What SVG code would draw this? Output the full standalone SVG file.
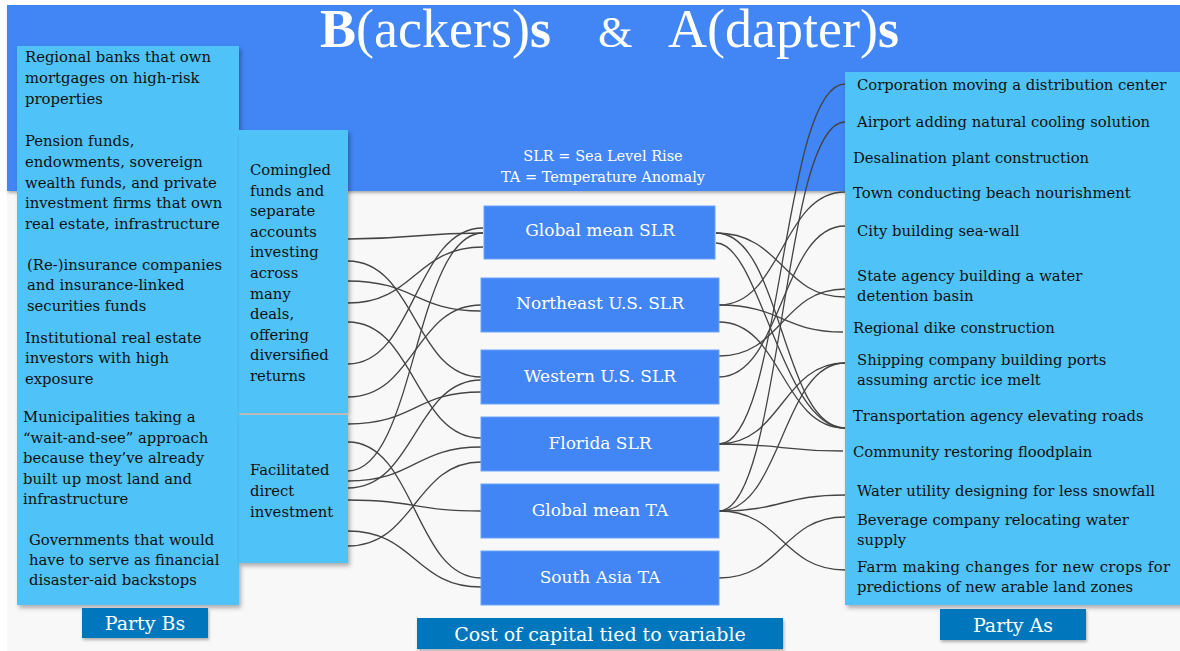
<svg xmlns="http://www.w3.org/2000/svg" width="1180" height="651" viewBox="0 0 1180 651">
<defs>
<filter id="sh" x="-10%" y="-10%" width="130%" height="130%"><feDropShadow dx="2" dy="3" stdDeviation="2" flood-color="#000" flood-opacity="0.3"/></filter>
<filter id="shs" x="-10%" y="-10%" width="130%" height="140%"><feDropShadow dx="1" dy="2" stdDeviation="1.5" flood-color="#000" flood-opacity="0.3"/></filter>
<style>
.lb{fill:#4fc3f7;filter:url(#sh)}
.cb{fill:#4285f4;stroke:#6aa3f8;stroke-width:1}
.bl{fill:#0277bd;filter:url(#shs)}
.t{font-family:"DejaVu Serif","Liberation Serif",serif;font-size:14.8px;fill:#111}
.w{font-family:"DejaVu Serif","Liberation Serif",serif;fill:#fff}
.h{font-family:"Liberation Serif","Times New Roman",serif;fill:#fff}
.c{fill:none;stroke:#444;stroke-width:1.3}
</style>
</defs>
<rect x="0" y="0" width="1180" height="651" fill="#fff"/>
<rect x="7" y="191" width="1173" height="460" fill="#f8f8f8"/>
<rect x="7" y="5" width="1173" height="186" fill="#4285f4" filter="url(#shs)"/>
<g id="title">
<text class="h" x="320" y="47" font-size="54"><tspan font-weight="bold">B</tspan>(ackers)<tspan font-weight="bold">s</tspan></text>
<text class="h" x="598" y="47" font-size="44">&amp;</text>
<text class="h" x="668" y="47" font-size="54">A(dapter)<tspan font-weight="bold">s</tspan></text>
</g>
<g id="legend">
<text class="w" x="603" y="161" font-size="14.5" text-anchor="middle">SLR = Sea Level Rise</text>
<text class="w" x="603" y="182" font-size="14.5" text-anchor="middle">TA = Temperature Anomaly</text>
</g>
<g id="connectors">
<path class="c" d="M348,239 C415,239 415,233 483,233"/>
<path class="c" d="M348,261 C415,261 415,377 481,377"/>
<path class="c" d="M348,281 C415,281 415,311 481,311"/>
<path class="c" d="M348,303 C415,303 415,247 483,247"/>
<path class="c" d="M348,322 C415,322 415,438 481,438"/>
<path class="c" d="M348,364 C415,364 415,228 483,228"/>
<path class="c" d="M348,397 C415,397 415,305 481,305"/>
<path class="c" d="M348,424 C415,424 415,392 481,392"/>
<path class="c" d="M348,442 C415,442 415,578 481,578"/>
<path class="c" d="M348,471 C415,471 415,233 483,233"/>
<path class="c" d="M348,481 C415,481 415,447 481,447"/>
<path class="c" d="M348,488 C415,488 415,380 481,380"/>
<path class="c" d="M348,500 C415,500 415,511 481,511"/>
<path class="c" d="M348,531 C415,531 415,587 481,587"/>
<path class="c" d="M348,546 C415,546 415,462 481,462"/>
<path class="c" d="M716,233 C782,233 782,297 845,297"/>
<path class="c" d="M716,233 C782,233 782,428 845,428"/>
<path class="c" d="M716,243 C760,243 782,428 845,428"/>
<path class="c" d="M719,305 C782,305 782,192 845,192"/>
<path class="c" d="M719,305 C782,305 782,332 843,332"/>
<path class="c" d="M719,322 C782,322 782,428 845,428"/>
<path class="c" d="M719,356 C782,356 782,289 845,289"/>
<path class="c" d="M719,377 C782,377 782,226 845,226"/>
<path class="c" d="M719,444 C782,444 782,84 845,84"/>
<path class="c" d="M719,444 C782,444 782,363 845,363"/>
<path class="c" d="M719,444 C782,444 782,451 843,451"/>
<path class="c" d="M719,511 C782,511 782,122 845,122"/>
<path class="c" d="M719,511 C782,511 782,363 845,363"/>
<path class="c" d="M719,511 C782,511 782,495 845,495"/>
<path class="c" d="M719,511 C782,511 782,570 845,570"/>
<path class="c" d="M719,578 C782,578 782,517 845,517"/>
</g>
<g id="partyB">
<rect class="lb" x="17" y="46" width="222" height="559"/>
<text class="t" x="25" y="62">Regional banks that own</text>
<text class="t" x="25" y="83">mortgages on high-risk</text>
<text class="t" x="25" y="104">properties</text>
<text class="t" x="25" y="146">Pension funds,</text>
<text class="t" x="25" y="167">endowments, sovereign</text>
<text class="t" x="25" y="188">wealth funds, and private</text>
<text class="t" x="25" y="208">investment firms that own</text>
<text class="t" x="25" y="229">real estate, infrastructure</text>
<text class="t" x="27" y="270">(Re-)insurance companies</text>
<text class="t" x="27" y="290">and insurance-linked</text>
<text class="t" x="27" y="311">securities funds</text>
<text class="t" x="25" y="343">Institutional real estate</text>
<text class="t" x="25" y="363">investors with high</text>
<text class="t" x="25" y="384">exposure</text>
<text class="t" x="23" y="422">Municipalities taking a</text>
<text class="t" x="23" y="443">“wait-and-see” approach</text>
<text class="t" x="23" y="463">because they’ve already</text>
<text class="t" x="23" y="484">built up most land and</text>
<text class="t" x="23" y="504">infrastructure</text>
<text class="t" x="29" y="545">Governments that would</text>
<text class="t" x="29" y="565">have to serve as financial</text>
<text class="t" x="29" y="585">disaster-aid backstops</text>
</g>
<g id="comingled">
<rect class="lb" x="239" y="130" width="109" height="283"/>
<text class="t" x="250" y="175">Comingled</text>
<text class="t" x="250" y="196">funds and</text>
<text class="t" x="250" y="216">separate</text>
<text class="t" x="250" y="237">accounts</text>
<text class="t" x="250" y="257">investing</text>
<text class="t" x="250" y="278">across</text>
<text class="t" x="250" y="299">many</text>
<text class="t" x="250" y="319">deals,</text>
<text class="t" x="250" y="340">offering</text>
<text class="t" x="250" y="360">diversified</text>
<text class="t" x="250" y="381">returns</text>
</g>
<g id="facilitated">
<rect class="lb" x="239" y="415" width="109" height="148"/>
<text class="t" x="250" y="475">Facilitated</text>
<text class="t" x="250" y="496">direct</text>
<text class="t" x="250" y="517">investment</text>
</g>
<g id="gslr"><rect class="cb" x="484" y="206" width="231" height="53"/><text class="w" x="600" y="236" font-size="17" text-anchor="middle">Global mean SLR</text></g>
<g id="neslr"><rect class="cb" x="481" y="278" width="238" height="54"/><text class="w" x="600" y="309" font-size="17" text-anchor="middle">Northeast U.S. SLR</text></g>
<g id="wslr"><rect class="cb" x="481" y="350" width="238" height="54"/><text class="w" x="600" y="382" font-size="17" text-anchor="middle">Western U.S. SLR</text></g>
<g id="fslr"><rect class="cb" x="481" y="417" width="238" height="54"/><text class="w" x="600" y="449" font-size="17" text-anchor="middle">Florida SLR</text></g>
<g id="gmta"><rect class="cb" x="481" y="484" width="238" height="54"/><text class="w" x="600" y="516" font-size="17" text-anchor="middle">Global mean TA</text></g>
<g id="sata"><rect class="cb" x="481" y="551" width="238" height="54"/><text class="w" x="600" y="583" font-size="17" text-anchor="middle">South Asia TA</text></g>
<g id="partyA">
<rect class="lb" x="845" y="72" width="340" height="533"/>
<text class="t" x="857" y="90">Corporation moving a distribution center</text>
<text class="t" x="857" y="127">Airport adding natural cooling solution</text>
<text class="t" x="853" y="163">Desalination plant construction</text>
<text class="t" x="853" y="198">Town conducting beach nourishment</text>
<text class="t" x="857" y="236">City building sea-wall</text>
<text class="t" x="857" y="281">State agency building a water</text>
<text class="t" x="857" y="301">detention basin</text>
<text class="t" x="853" y="333">Regional dike construction</text>
<text class="t" x="857" y="365">Shipping company building ports</text>
<text class="t" x="857" y="385">assuming arctic ice melt</text>
<text class="t" x="853" y="421">Transportation agency elevating roads</text>
<text class="t" x="853" y="457">Community restoring floodplain</text>
<text class="t" x="857" y="496">Water utility designing for less snowfall</text>
<text class="t" x="857" y="525">Beverage company relocating water</text>
<text class="t" x="857" y="545">supply</text>
<text class="t" x="857" y="572" textLength="313" lengthAdjust="spacing">Farm making changes for new crops for</text>
<text class="t" x="857" y="592">predictions of new arable land zones</text>
</g>
<g id="labelB"><rect class="bl" x="82" y="608" width="126" height="30"/><text class="w" x="145" y="630" font-size="19" text-anchor="middle">Party Bs</text></g>
<g id="labelCost"><rect class="bl" x="417" y="618" width="366" height="31"/><text class="w" x="600" y="641" font-size="19" text-anchor="middle">Cost of capital tied to variable</text></g>
<g id="labelA"><rect class="bl" x="940" y="609" width="146" height="31"/><text class="w" x="1013" y="632" font-size="19" text-anchor="middle">Party As</text></g>
</svg>
